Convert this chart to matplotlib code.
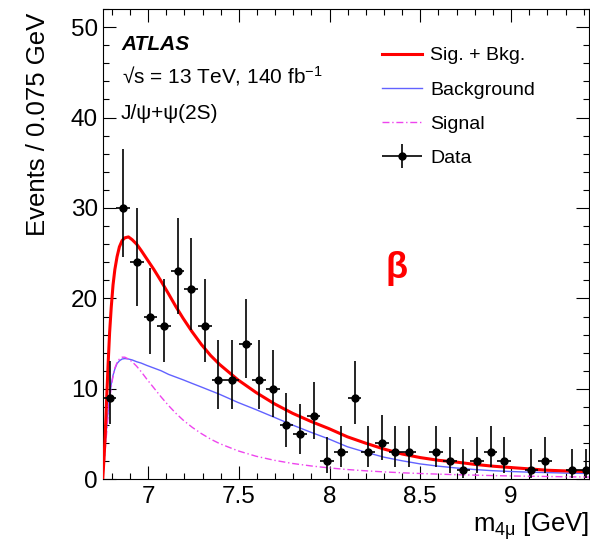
import matplotlib
matplotlib.use("Agg")
import matplotlib.pyplot as plt
from matplotlib.ticker import MultipleLocator, FuncFormatter
from matplotlib.container import ErrorbarContainer
from matplotlib.legend_handler import HandlerErrorbar

plt.rcParams['font.family'] = ['Liberation Sans', 'DejaVu Sans']
plt.rcParams['mathtext.fontset'] = 'custom'
plt.rcParams['mathtext.rm'] = 'Liberation Sans'
plt.rcParams['mathtext.it'] = 'Liberation Sans:italic'
plt.rcParams['mathtext.bf'] = 'Liberation Sans:bold'

# ---------------- data ----------------
data_x = [6.7875, 6.8625, 6.9375, 7.0125, 7.0875, 7.1625, 7.2375, 7.3125,
          7.3875, 7.4625, 7.5375, 7.6125, 7.6875, 7.7625, 7.8375, 7.9125,
          7.9875, 8.0625, 8.1375, 8.2125, 8.2875, 8.3625, 8.4375, 8.5875,
          8.6625, 8.7375, 8.8125, 8.8875, 8.9625, 9.1125, 9.1875, 9.3375,
          9.4125]
data_y = [9, 30, 24, 18, 17, 23, 21, 17, 11, 11, 15, 11, 10, 6, 5, 7,
          2, 3, 9, 3, 4, 3, 3, 3, 2, 1, 2, 3, 2, 1, 2, 1, 1]
err_lo = [2.94, 5.43, 4.85, 4.19, 4.07, 4.75, 4.53, 4.07, 3.27, 3.27, 3.82,
          3.27, 3.11, 2.38, 2.16, 2.58, 1.29, 1.63, 2.94, 1.63, 1.91, 1.63,
          1.63, 1.63, 1.29, 0.83, 1.29, 1.63, 1.29, 0.83, 1.29, 0.83, 0.83]
err_hi = [4.11, 6.55, 5.97, 5.32, 5.20, 5.87, 5.66, 5.20, 4.42, 4.42, 4.95,
          4.42, 4.27, 3.58, 3.38, 3.77, 2.64, 2.92, 4.11, 2.92, 3.16, 2.92,
          2.92, 2.92, 2.64, 2.30, 2.64, 2.92, 2.64, 2.30, 2.64, 2.30, 2.30]
bin_half_width = 0.0375

curve_x = [6.750, 6.757, 6.764, 6.772, 6.780, 6.788, 6.797, 6.807, 6.817,
           6.829, 6.842, 6.857, 6.872, 6.892, 6.912, 6.937, 6.962, 6.992,
           7.032, 7.072, 7.113, 7.153, 7.193, 7.243, 7.294, 7.344, 7.394,
           7.495, 7.595, 7.696, 7.796, 7.897, 7.997, 8.098, 8.198, 8.299,
           8.399, 8.500, 8.600, 8.700, 8.800, 8.900, 9.000, 9.100, 9.200,
           9.300, 9.430]
sig_bkg = [0.0, 2.2, 5.0, 9.0, 12.8, 16.2, 19.0, 21.5, 23.2, 24.6, 25.7,
           26.4, 26.7, 26.8, 26.5, 26.0, 25.3, 24.4, 23.2, 21.9, 20.5, 19.1,
           17.8, 16.3, 14.9, 13.7, 12.7, 11.0, 9.6, 8.35, 7.3, 6.4, 5.6, 4.7,
           4.0, 3.35, 2.8, 2.4, 2.1, 1.9, 1.65, 1.45, 1.3, 1.15, 1.0, 0.93,
           0.85]
background = [0.0, 1.8, 3.8, 5.8, 7.6, 9.1, 10.5, 11.5, 12.2, 12.8, 13.1,
              13.3, 13.35, 13.3, 13.2, 13.0, 12.85, 12.6, 12.3, 12.0, 11.6,
              11.3, 11.0, 10.6, 10.2, 9.8, 9.4, 8.5, 7.7, 6.85, 6.0, 5.2,
              4.45, 3.6, 3.0, 2.45, 2.05, 1.7, 1.45, 1.25, 1.08, 0.95, 0.86,
              0.79, 0.74, 0.69, 0.64]
signal = [0.0, 1.5, 3.3, 5.2, 7.1, 8.8, 10.2, 11.4, 12.3, 12.9, 13.3, 13.5,
          13.5, 13.3, 13.0, 12.5, 11.9, 11.1, 10.1, 9.1, 8.15, 7.3, 6.55,
          5.75, 5.05, 4.45, 3.95, 3.15, 2.55, 2.1, 1.75, 1.48, 1.26, 1.08,
          0.94, 0.82, 0.72, 0.64, 0.57, 0.51, 0.46, 0.41, 0.37, 0.34, 0.31,
          0.28, 0.25]

legend_labels = ["Sig. + Bkg.", "Background", "Signal", "Data"]

# ---------------- figure ----------------
W, H = 590, 543
fig = plt.figure(figsize=(W / 100, H / 100), dpi=100)


def fx(px):
    return px / W


def fy(py):
    return 1 - py / H


ax_left, ax_right, ax_top, ax_bottom = 102.7, 589.1, 9.0, 479.3
ax = fig.add_axes([fx(ax_left), fy(ax_bottom), (ax_right - ax_left) / W,
                   (ax_bottom - ax_top) / H])

l_sb, = ax.plot(curve_x, sig_bkg, color='#ff0000', lw=2.2, zorder=4)
l_b, = ax.plot(curve_x, background, color='#6262ff', lw=1.0, zorder=3)
l_s, = ax.plot(curve_x, signal, color='#ee44ee', lw=1.0,
               dashes=(5, 2, 1, 2), zorder=3)
eb = ax.errorbar(data_x, data_y, yerr=[err_lo, err_hi], xerr=bin_half_width,
                 fmt='o', color='black', ms=5, elinewidth=1.2, capsize=0,
                 zorder=5)

ax.set_xlim(6.75, 9.43)
ax.set_ylim(0, 52)
ax.xaxis.set_major_locator(MultipleLocator(0.5))
ax.xaxis.set_minor_locator(MultipleLocator(0.1))
ax.yaxis.set_major_locator(MultipleLocator(10))
ax.yaxis.set_minor_locator(MultipleLocator(2))
ax.xaxis.set_major_formatter(FuncFormatter(lambda v, p: f"{v:g}"))
ax.tick_params(which='both', direction='in', top=True, right=True,
               width=0.8, labelsize=17.5)
ax.tick_params(which='major', length=9.4)
ax.tick_params(which='minor', length=4.5)
ax.tick_params(axis='x', pad=4.5)
ax.tick_params(axis='y', pad=3.5)
for s in ax.spines.values():
    s.set_linewidth(0.8)

# texts
fig.text(fx(121.7), fy(50), 'ATLAS', fontsize=15, fontweight='bold',
         fontstyle='italic', ha='left', va='baseline')
fig.text(fx(121.7), fy(83), r'√s = 13 TeV, 140 fb$^{-1}$', fontsize=15,
         ha='left', va='baseline')
fig.text(fx(120.5), fy(119), 'J/ψ+ψ(2S)', fontsize=15, ha='left',
         va='baseline')
fig.text(fx(397), fy(269), 'β', color='#ff0000', fontsize=26,
         fontweight='bold', ha='center', va='center')

fig.text(fx(38), fy(124), 'Events / 0.075 GeV', fontsize=18.5, rotation=90,
         ha='center', va='center')
fig.text(fx(473), fy(532), r'm$_{\mathrm{4μ}}$ [GeV]', fontsize=18.5,
         ha='left', va='baseline')

leg = ax.legend([l_sb, l_b, l_s, eb], legend_labels, loc='upper left',
                bbox_to_anchor=(fx(381.7), fy(46.8)),
                bbox_transform=fig.transFigure, frameon=False, fontsize=14,
                borderpad=0, borderaxespad=0, handlelength=2.06,
                handletextpad=0.43, labelspacing=0.85,
                handler_map={ErrorbarContainer: HandlerErrorbar(
                    xerr_size=1.03, yerr_size=0.6)})

fig.savefig('out.png', dpi=100)
